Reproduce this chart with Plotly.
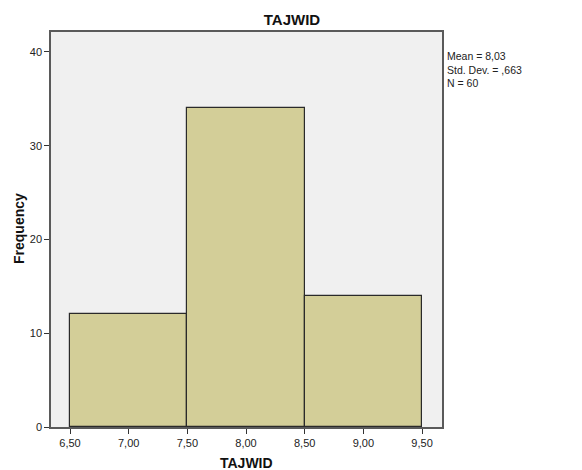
import plotly.graph_objects as go

bin_centers = [7.0, 8.0, 9.0]
frequencies = [12, 34, 14]
x_tick_vals = [6.5, 7.0, 7.5, 8.0, 8.5, 9.0, 9.5]
x_tick_text = ["6,50", "7,00", "7,50", "8,00", "8,50", "9,00", "9,50"]
y_tick_vals = [0, 10, 20, 30, 40]
stats_text = "Mean = 8,03<br>Std. Dev. = ,663<br>N = 60"

# the page body adds an 8px offset; size the figure to fit the 582x470 window
W, H = 574, 462
L, R, T, B = 43, 140, 24, 43

fig = go.Figure()
fig.add_trace(go.Bar(
    x=bin_centers, y=frequencies, width=1.0,
    marker=dict(color="#d3ce98", line=dict(color="#2a2a2a", width=1.2)),
))

font = "Liberation Sans, Arial, sans-serif"
fig.update_layout(
    width=W, height=H,
    margin=dict(l=L, r=R, t=T, b=B, autoexpand=False),
    paper_bgcolor="white", plot_bgcolor="#f0f0f0",
    showlegend=False,
    font=dict(family=font, size=11, color="#222222"),
    title=dict(text="<b>TAJWID</b>", x=284 / W, xanchor="center", y=1 - 12 / H, yanchor="middle",
               font=dict(size=15, color="#111111")),
    bargap=0,
)
fig.update_xaxes(
    range=[6.338, 9.67], tickvals=x_tick_vals, ticktext=x_tick_text,
    ticks="outside", ticklen=5, tickcolor="#333333", showgrid=False, zeroline=False,
    showline=True, linecolor="#5a5a5a", linewidth=1.5, mirror=True, automargin=False,
    tickfont=dict(size=11, color="#222222"),
)
fig.update_yaxes(
    range=[0, 42.13], tickvals=y_tick_vals,
    ticks="outside", ticklen=5, tickcolor="#333333", showgrid=False, zeroline=False,
    showline=True, linecolor="#5a5a5a", linewidth=1.5, mirror=True, automargin=False,
    tickfont=dict(size=11, color="#222222"),
)
pw = W - L - R
ph = H - T - B
# x-axis title
fig.add_annotation(
    text="<b>TAJWID</b>", xref="paper", yref="paper", x=(238 - L) / pw, y=-(455 - (H - B)) / ph,
    xanchor="center", yanchor="middle", showarrow=False,
    font=dict(size=14, color="#111111"),
)
# y-axis title
fig.add_annotation(
    text="<b>Frequency</b>", xref="paper", yref="paper", x=-(L - 11) / pw, y=(H - B - 221) / ph,
    xanchor="center", yanchor="middle", showarrow=False, textangle=-90,
    font=dict(size=14, color="#111111"),
)
fig.add_annotation(
    text=stats_text, xref="paper", yref="paper", x=1.0, y=1 - 16 / ph,
    xanchor="left", yanchor="top", xshift=3, showarrow=False, align="left",
    font=dict(size=10.5, color="#222222"),
)
fig.write_html("out.html")
